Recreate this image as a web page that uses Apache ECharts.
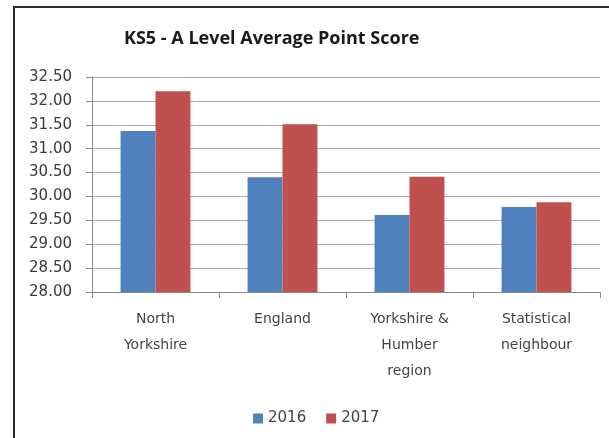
<!DOCTYPE html>
<html>
<head>
    <meta charset="utf-8">
    <title>KS5 - A Level Average Point Score</title>
    <script src="https://cdn.jsdelivr.net/npm/echarts@6/dist/echarts.min.js"></script>
    <style>
        html, body { margin: 0; padding: 0; background: #fff; }
        #main { width: 609px; height: 438px; }
    </style>
</head>
<body>
<div id="main"></div>
<script type="text/javascript">
    var categories = ['North\nYorkshire', 'England', 'Yorkshire &\nHumber\nregion', 'Statistical\nneighbour'];
    var years = ['2016', '2017'];
    var values2016 = [31.37, 30.40, 29.61, 29.78];
    var values2017 = [32.20, 31.51, 30.41, 29.88];

    var chart = echarts.init(document.getElementById('main'));
    var labelFont = 'DejaVu Sans';

    var option = {
        animation: false,
        color: ['#4f81bd', '#c0504d'],
        title: {
            text: 'KS5 - A Level Average Point Score',
            left: 119,
            top: 25,
            textStyle: {
                fontFamily: 'Open Sans',
                fontWeight: 'bold',
                fontSize: 18,
                color: '#1a1a1a'
            }
        },
        // chart frame (cropped on the right and bottom)
        graphic: [{
            type: 'rect',
            shape: { x: 14, y: 7, width: 640, height: 460 },
            style: { fill: 'none', stroke: '#2b2b2b', lineWidth: 2 },
            silent: true
        }],
        legend: {
            data: years,
            left: 248,
            top: 406,
            itemWidth: 10,
            itemHeight: 10,
            itemGap: 20,
            icon: 'rect',
            textStyle: { fontFamily: labelFont, fontSize: 15, color: '#444' }
        },
        grid: {
            left: 92,
            right: 9,
            top: 77,
            bottom: 146
        },
        xAxis: {
            type: 'category',
            data: categories,
            axisLine: { lineStyle: { color: '#8a8a8a', width: 1 } },
            axisTick: { show: true, length: 6, lineStyle: { color: '#8a8a8a' } },
            axisLabel: {
                margin: 14,
                fontFamily: labelFont,
                fontSize: 14,
                lineHeight: 26,
                color: '#444'
            }
        },
        yAxis: {
            type: 'value',
            min: 28,
            max: 32.5,
            interval: 0.5,
            axisLine: { show: true, lineStyle: { color: '#8a8a8a' } },
            axisTick: { show: true, length: 6, lineStyle: { color: '#8a8a8a' } },
            splitLine: { lineStyle: { color: '#ababab' } },
            axisLabel: {
                margin: 20,
                fontFamily: labelFont,
                fontSize: 15,
                color: '#3a3a3a',
                formatter: function (v) { return v.toFixed(2); }
            }
        },
        series: [
            {
                name: years[0],
                type: 'bar',
                data: values2016,
                barGap: '0%',
                barCategoryGap: '45%'
            },
            {
                name: years[1],
                type: 'bar',
                data: values2017,
                barGap: '0%',
                barCategoryGap: '45%'
            }
        ]
    };

    chart.setOption(option);
</script>
</body>
</html>
